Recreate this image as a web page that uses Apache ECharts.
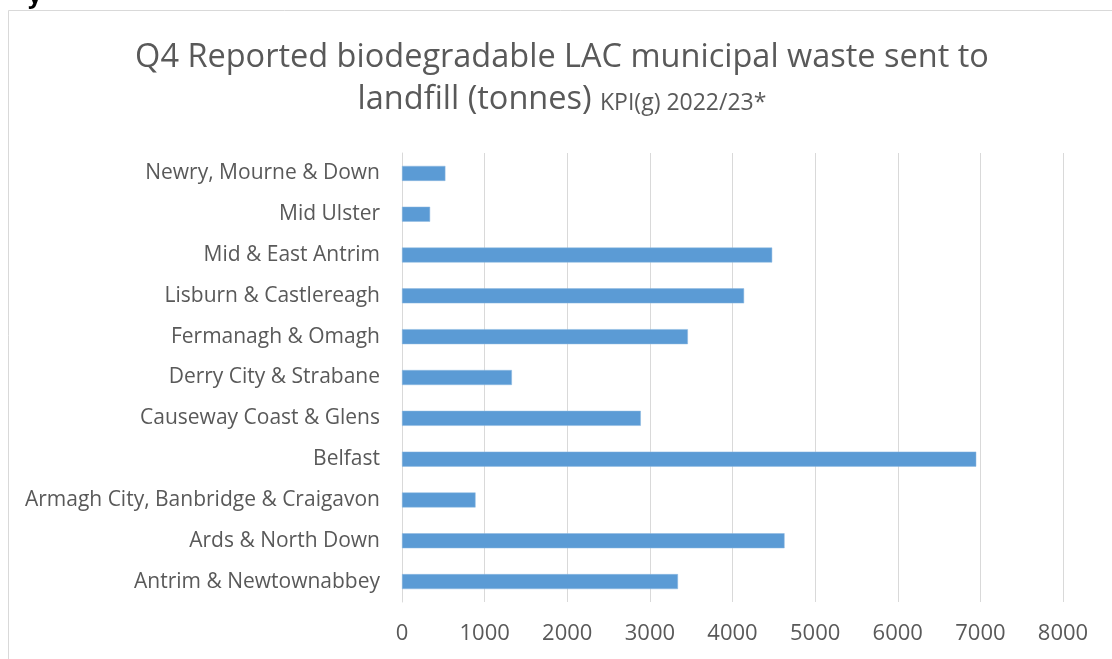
<!DOCTYPE html>
<html><head><meta charset="utf-8">
<script src="https://cdn.jsdelivr.net/npm/echarts@6/dist/echarts.min.js"></script>
<style>html,body{margin:0;padding:0;background:#fff}#c{width:1112px;height:659px}</style>
</head><body><div id="c"></div>
<script>
const categories = ['Antrim & Newtownabbey','Ards & North Down','Armagh City, Banbridge & Craigavon','Belfast','Causeway Coast & Glens','Derry City & Strabane','Fermanagh & Omagh','Lisburn & Castlereagh','Mid & East Antrim','Mid Ulster','Newry, Mourne & Down'];
const values = [3340, 4630, 890, 6950, 2890, 1330, 3460, 4140, 4480, 340, 525];
const xTicks = [0, 1000, 2000, 3000, 4000, 5000, 6000, 7000, 8000];
const titleLine1 = 'Q4 Reported biodegradable LAC municipal waste sent to';
const titleLine2a = 'landfill (tonnes) ';
const titleLine2b = 'KPI(g) 2022/23*';

const font = '"Open Sans", Arial, sans-serif';
const chart = echarts.init(document.getElementById('c'), null, {renderer:'canvas'});
chart.setOption({
  animation:false,
  backgroundColor:'#fff',
  graphic:[
    {type:'rect', shape:{x:8.5,y:10.5,width:1200,height:700}, style:{fill:'none',stroke:'#d9d9d9',lineWidth:1}, silent:true},
    {type:'text', x:28, y:-16, style:{text:'y', font:'bold 24px '+font, fill:'#000'}},
    {type:'text', x:562, y:58, style:{text:titleLine1, font:'32.5px '+font, fill:'#595959', textAlign:'center', textVerticalAlign:'middle'}},
    {type:'text', x:562, y:100, style:{text:'{a|'+titleLine2a+'}{b|'+titleLine2b+'}', textAlign:'center', textVerticalAlign:'middle',
      rich:{a:{font:'32.5px '+font, fill:'#595959', color:'#595959'}, b:{font:'23px '+font, fill:'#595959', color:'#595959', padding:[7,0,0,0]}}}}
  ],
  grid:{left:402, right:49, top:153, height:449, containLabel:false},
  xAxis:{type:'value', min:0, max:8000, interval:1000,
    axisLine:{show:false}, axisTick:{show:false},
    splitLine:{lineStyle:{color:'#d9d9d9', width:1}},
    axisLabel:{color:'#595959', fontSize:22, fontFamily:font, margin:21,
      formatter:v=>xTicks.includes(v)?String(v):''}},
  yAxis:{type:'category', data:categories,
    axisLine:{show:true, lineStyle:{color:'#d9d9d9'}}, axisTick:{show:false},
    axisLabel:{color:'#595959', fontSize:21, fontFamily:font, margin:22, padding:[5,0,0,0]}},
  series:[{type:'bar', data:values, barWidth:15,
    itemStyle:{color:'#5B9BD5', borderColor:'#8db8e0', borderWidth:0.5}}]
});
</script></body></html>
